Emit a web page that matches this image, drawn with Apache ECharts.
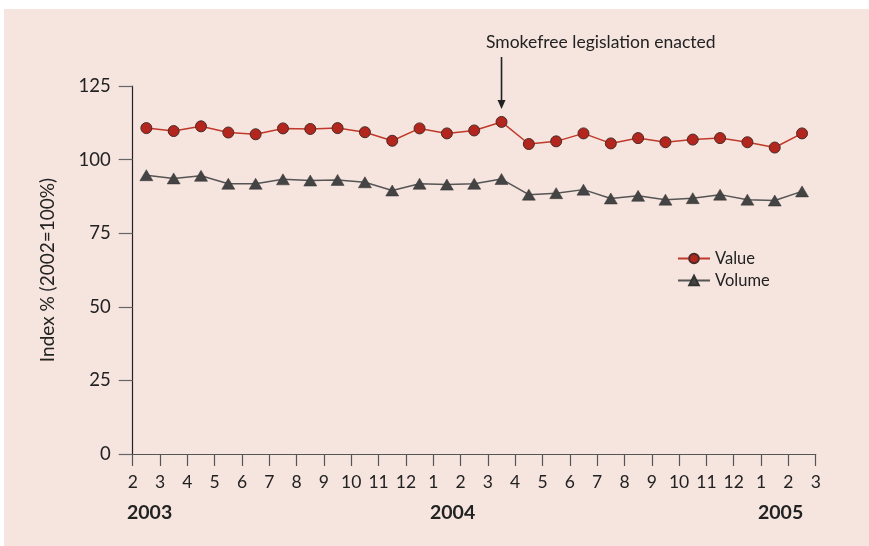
<!DOCTYPE html>
<html>
<head>
<meta charset="utf-8">
<script src="https://cdn.jsdelivr.net/npm/echarts@6/dist/echarts.min.js"></script>
<style>
  html, body { margin: 0; padding: 0; background: #fff; }
  #main { width: 869px; height: 546px; }
</style>
</head>
<body>
<div id="main"></div>
<script>
// month ticks, Feb 2003 .. Mar 2005 (points sit between ticks)
const monthLabels = ['2', '3', '4', '5', '6', '7', '8', '9', '10', '11', '12', '1', '2', '3', '4', '5', '6', '7', '8', '9', '10', '11', '12', '1', '2', '3']
const yearLabels = ['2003', '2004', '2005']
const valueIndex = [110.7, 109.7, 111.3, 109.2, 108.6, 110.6, 110.4, 110.7, 109.3, 106.4, 110.6, 108.9, 109.9,
  112.8, 105.3, 106.2, 108.9, 105.5, 107.3, 105.9, 106.8, 107.3, 105.9, 104.1, 108.9]
const volumeIndex = [94.7, 93.6, 94.5, 91.8, 91.8, 93.3, 92.9, 93.1, 92.3, 89.5, 91.8, 91.5, 91.8,
  93.4, 88.1, 88.6, 89.8, 86.8, 87.7, 86.4, 86.9, 88.1, 86.4, 86.1, 89.2]
const eventLabel = 'Smokefree legislation enacted'
const eventIndex = 13

const font = 'Lato, "Open Sans", sans-serif'
const chart = echarts.init(document.getElementById('main'))

const option = {
  backgroundColor: '#fff',
  textStyle: { fontFamily: font },
  animation: false,
  grid: { left: 132.7, right: 53.3, top: 86, bottom: 92 },
  legend: {
    orient: 'vertical',
    left: 672,
    top: 245,
    itemWidth: 32,
    itemHeight: 12,
    itemGap: 5,
    textStyle: { fontSize: 16.5, color: '#222', fontFamily: font },
    data: ['Value', 'Volume']
  },
  xAxis: {
    type: 'value',
    min: 0,
    max: 25,
    interval: 1,
    splitLine: { show: false },
    axisLine: { show: true, lineStyle: { color: '#555', width: 1.2 } },
    axisTick: { show: true, length: 12, lineStyle: { color: '#555', width: 1.2 } },
    axisLabel: {
      fontSize: 17.5,
      color: '#222',
      margin: 19,
      fontFamily: font,
      formatter: function(v) {
        return monthLabels[Math.round(v)]
      }
    }
  },
  yAxis: {
    type: 'value',
    min: 0,
    max: 125,
    interval: 25,
    name: 'Index % (2002=100%)',
    nameLocation: 'middle',
    nameGap: 75,
    nameTextStyle: { fontSize: 19, color: '#222', fontFamily: font },
    splitLine: { show: false },
    axisLine: { show: true, lineStyle: { color: '#222', width: 1.2 } },
    axisTick: { show: true, length: 14, lineStyle: { color: '#666', width: 1.2 } },
    axisLabel: { fontSize: 18.5, color: '#222', margin: 22, fontFamily: font }
  },
  series: [
    {
      name: 'Value',
      type: 'line',
      symbol: 'circle',
      symbolSize: 11,
      z: 3,
      lineStyle: { color: '#c0392b', width: 1.5 },
      itemStyle: { color: '#b3261e', borderColor: '#4a2a26', borderWidth: 1 },
      data: valueIndex.map((v, i) => [i + 0.5, v])
    },
    {
      name: 'Volume',
      type: 'line',
      symbol: 'triangle',
      symbolSize: [13, 11],
      lineStyle: { color: '#555', width: 1.5 },
      itemStyle: { color: '#444', borderColor: '#333', borderWidth: 0.5 },
      data: volumeIndex.map((v, i) => [i + 0.5, v])
    }
  ]
}
chart.setOption(option)

// annotation arrow placed from the data point's pixel position
const p = chart.convertToPixel({ gridIndex: 0 }, [eventIndex + 0.5, valueIndex[eventIndex]])
const arrowTop = 57
const arrowEnd = p[1] - 13
chart.setOption({
  graphic: [
    {
      type: 'rect', z: -100, silent: true,
      shape: { x: 4, y: 9, width: 865, height: 537 },
      style: { fill: '#f6e4de' }
    },
    {
      type: 'text', left: 486, top: 33,
      style: { text: eventLabel, fontSize: 17.5, fill: '#222', fontFamily: font }
    },
    {
      type: 'line',
      shape: { x1: p[0], y1: arrowTop, x2: p[0], y2: arrowEnd - 6 },
      style: { stroke: '#222', lineWidth: 1.6 }
    },
    {
      type: 'polygon',
      shape: { points: [[p[0] - 4, arrowEnd - 9], [p[0] + 4, arrowEnd - 9], [p[0], arrowEnd]] },
      style: { fill: '#222' }
    },
    {
      type: 'text', left: 127, top: 503,
      style: { text: yearLabels[0], fontSize: 19.5, fontWeight: 'bold', fill: '#222', fontFamily: font }
    },
    {
      type: 'text', left: 430, top: 503,
      style: { text: yearLabels[1], fontSize: 19.5, fontWeight: 'bold', fill: '#222', fontFamily: font }
    },
    {
      type: 'text', left: 758, top: 503,
      style: { text: yearLabels[2], fontSize: 19.5, fontWeight: 'bold', fill: '#222', fontFamily: font }
    }
  ]
})
</script>
</body>
</html>
